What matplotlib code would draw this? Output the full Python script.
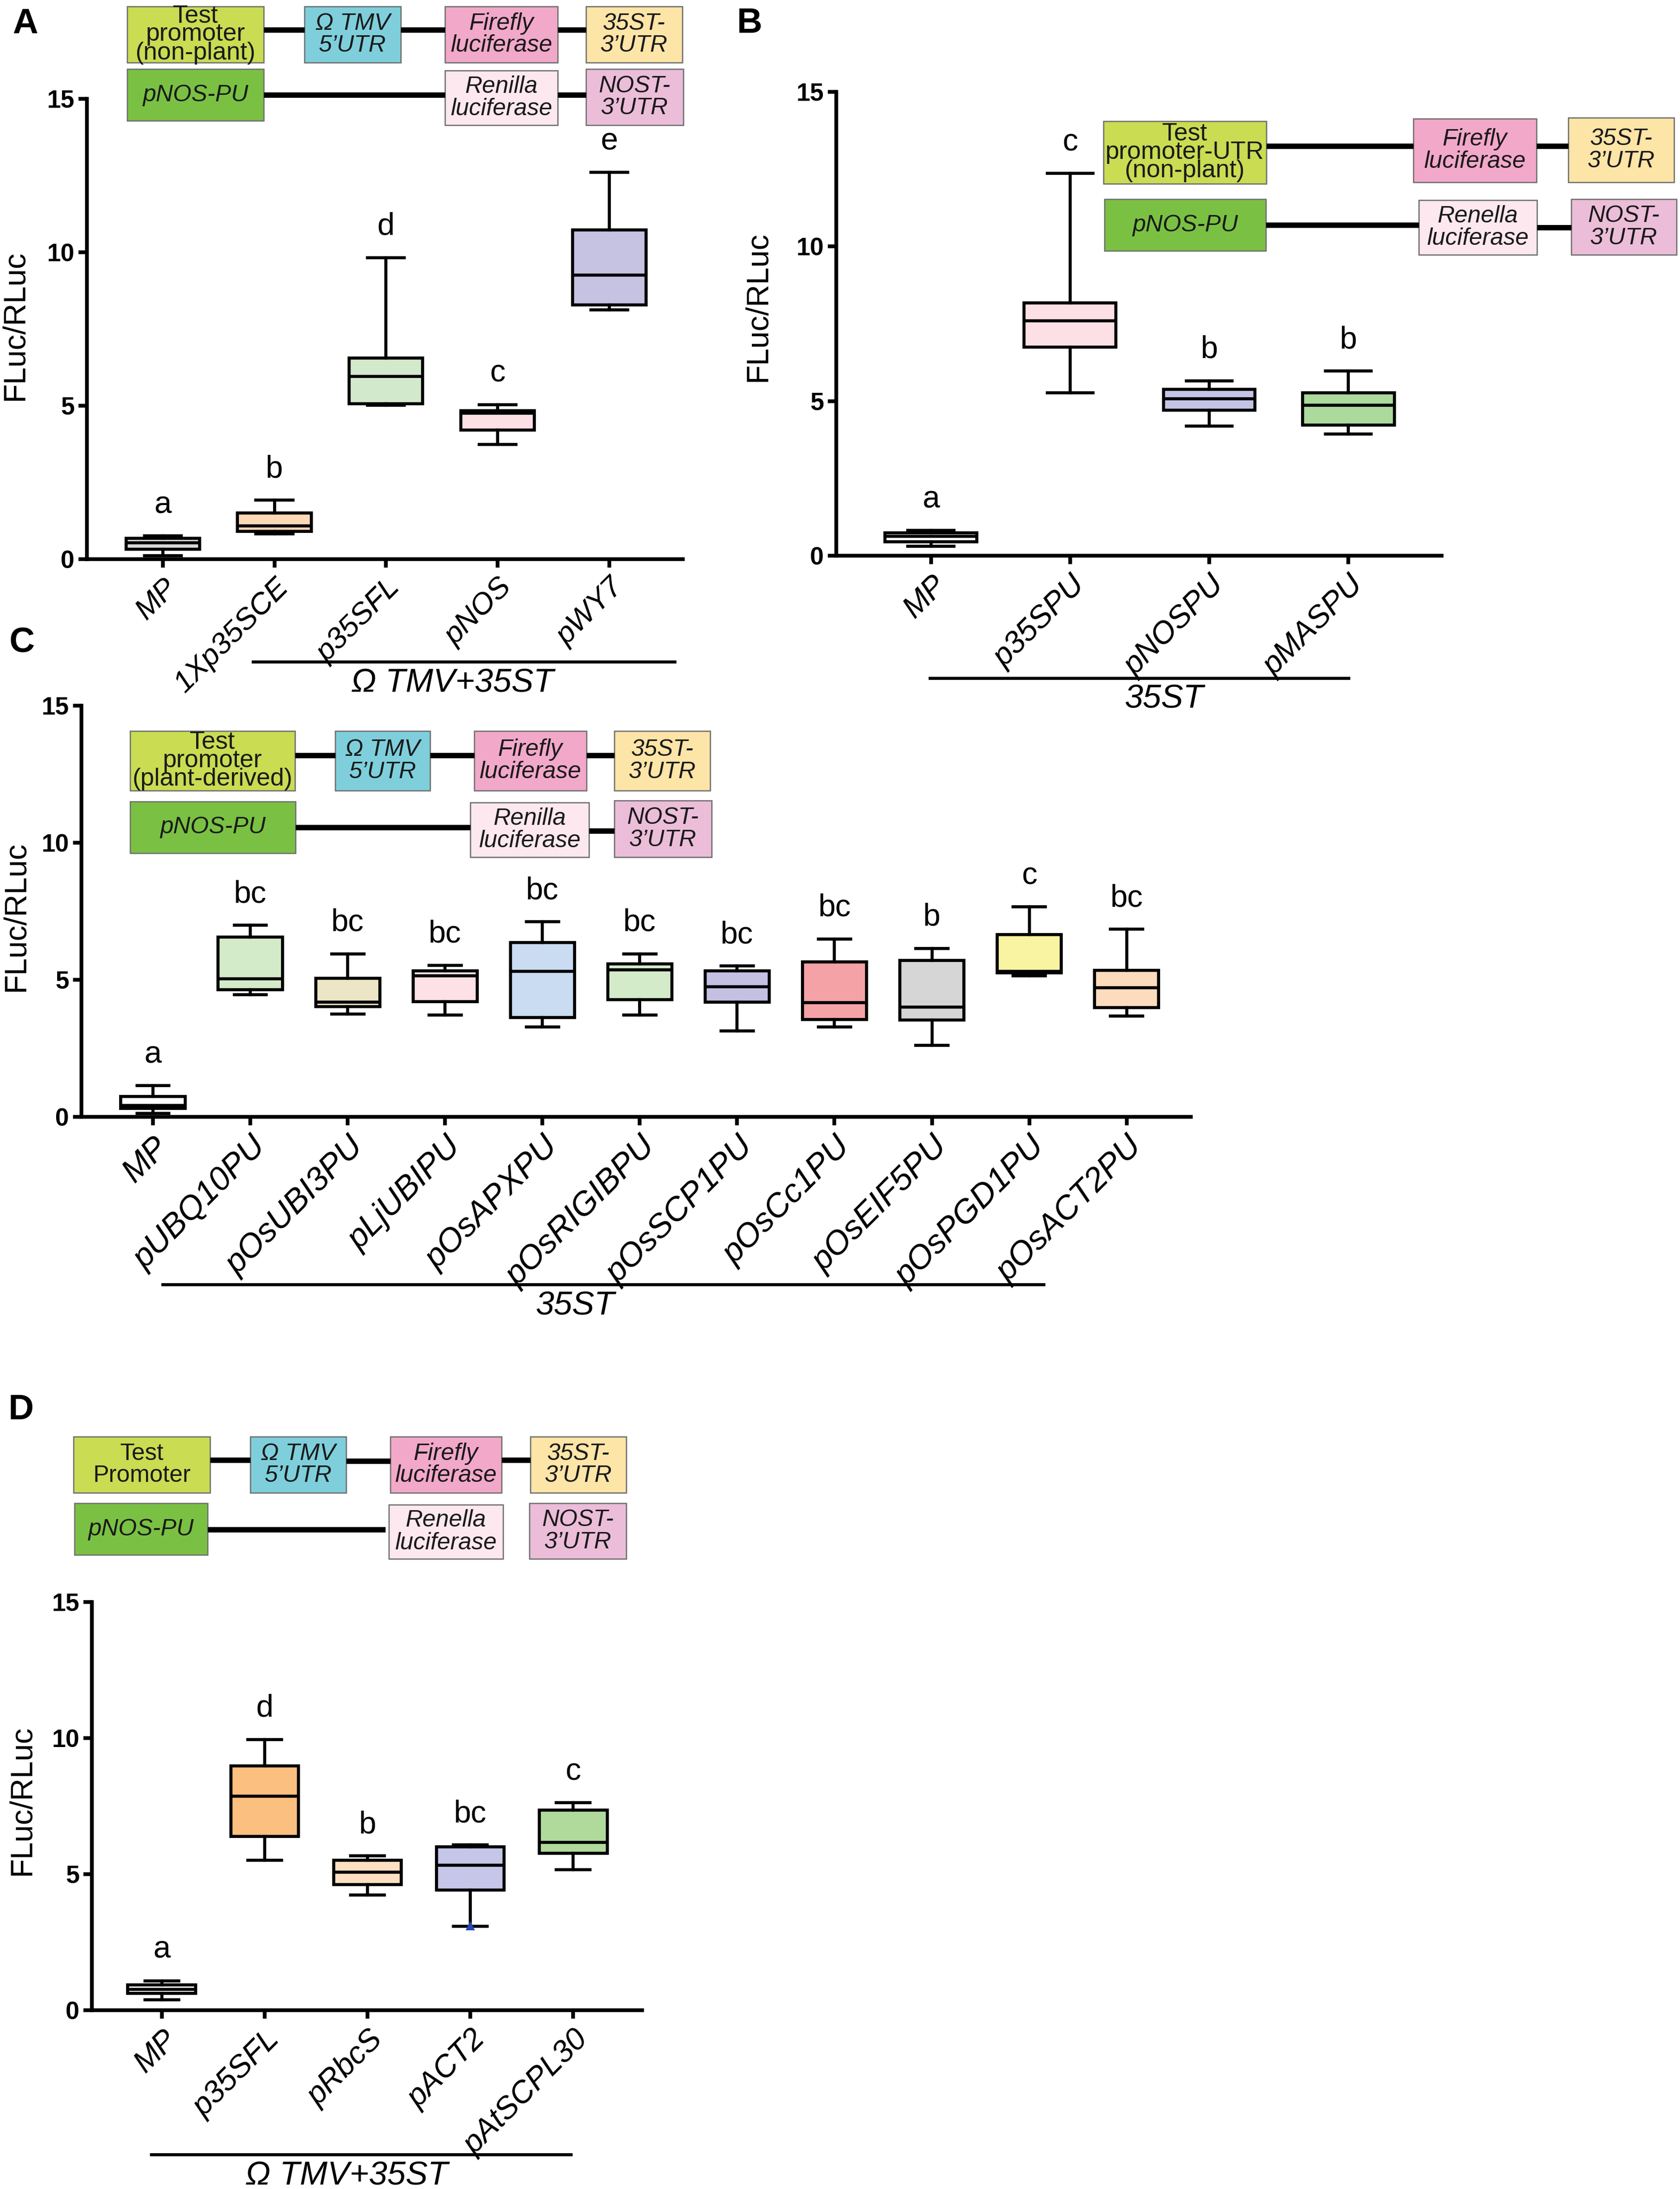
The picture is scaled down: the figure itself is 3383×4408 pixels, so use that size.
import matplotlib.pyplot as plt
from matplotlib.patches import Rectangle

W, H = 3383, 4408
DPI = 300
plt.rcParams['font.family'] = ['Liberation Sans', 'DejaVu Sans']

# ---- data ----
# panel A
a_names = ["MP", "1Xp35SCE", "p35SFL", "pNOS", "pWY7"]
a_lo = [0.12, 0.83, 5.01, 3.73, 8.13]
a_q1 = [0.33, 0.90, 5.07, 4.20, 8.28]
a_med = [0.54, 1.09, 5.95, 4.75, 9.26]
a_q3 = [0.68, 1.51, 6.56, 4.84, 10.73]
a_hi = [0.76, 1.92, 9.83, 5.04, 12.60]
a_letters = ["a", "b", "d", "c", "e"]

# panel B
b_names = ["MP", "p35SPU", "pNOSPU", "pMASPU"]
b_lo = [0.30, 5.27, 4.19, 3.94]
b_q1 = [0.45, 6.74, 4.71, 4.23]
b_med = [0.62, 7.60, 5.08, 4.86]
b_q3 = [0.74, 8.17, 5.38, 5.26]
b_hi = [0.82, 12.36, 5.66, 5.97]
b_letters = ["a", "c", "b", "b"]

# panel C
c_names = ["MP", "pUBQ10PU", "pOsUBI3PU", "pLjUBIPU", "pOsAPXPU", "pOsRIGIBPU",
           "pOsSCP1PU", "pOsCc1PU", "pOsEIF5PU", "pOsPGD1PU", "pOsACT2PU"]
c_lo = [0.13, 4.46, 3.75, 3.72, 3.27, 3.72, 3.13, 3.28, 2.60, 5.14, 3.67]
c_q1 = [0.30, 4.63, 4.02, 4.21, 3.62, 4.27, 4.19, 3.55, 3.54, 5.25, 3.99]
c_med = [0.42, 5.03, 4.19, 5.14, 5.31, 5.36, 4.74, 4.17, 4.00, 5.31, 4.71]
c_q3 = [0.75, 6.55, 5.06, 5.33, 6.35, 5.58, 5.33, 5.65, 5.70, 6.65, 5.35]
c_hi = [1.14, 6.99, 5.95, 5.53, 7.12, 5.95, 5.50, 6.49, 6.15, 7.66, 6.85]
c_letters = ["a", "bc", "bc", "bc", "bc", "bc", "bc", "bc", "b", "c", "bc"]

# panel D
d_names = ["MP", "p35SFL", "pRbcS", "pACT2", "pAtSCPL30"]
d_lo = [0.39, 5.51, 4.24, 3.08, 5.17]
d_q1 = [0.62, 6.38, 4.61, 4.41, 5.76]
d_med = [0.77, 7.87, 5.07, 5.32, 6.17]
d_q3 = [0.93, 8.98, 5.51, 6.00, 7.36]
d_hi = [1.08, 9.95, 5.67, 6.07, 7.63]
d_fliers = [[], [], [], [3.08], []]
d_letters = ["a", "d", "b", "bc", "c"]

yticks = [0, 5, 10, 15]

# box colours
a_colors = ["#d9d9d9", "#fcd8b6", "#d3e9cb", "#fde0e6", "#c5c2e2"]
b_colors = ["#ffffff", "#fde0e6", "#c4c4e6", "#acd99c"]
c_colors = ["#ffffff", "#d4ebc9", "#ede6c6", "#fde1e7", "#c9dcf1", "#d4ebc9",
            "#c3c0e2", "#f5a2a6", "#d6d6d6", "#f9f4a2", "#fcdcbd"]
d_colors = ["#ffffff", "#fbbf7f", "#fde0c1", "#c6c6e8", "#afda9c"]

C_TEST, C_TMV, C_FF, C_35 = "#c9dc52", "#7ecfdb", "#f2a8c9", "#fde4a7"
C_NOS, C_REN, C_NOST = "#7ac143", "#fde8ef", "#ebbdd9"

fig = plt.figure(figsize=(W / DPI, H / DPI), dpi=DPI)


def panel(rect, xlim, names, lo, q1, med, q3, hi, letters, colors, xfs, fliers=None):
    x0, y0, x1, y1 = rect
    ax = fig.add_axes([x0 / W, 1 - y1 / H, (x1 - x0) / W, (y1 - y0) / H])
    stats = []
    for i in range(len(names)):
        fl = fliers[i] if fliers else []
        stats.append(dict(whislo=lo[i], q1=q1[i], med=med[i], q3=q3[i], whishi=hi[i], fliers=fl))
    pos = list(range(len(names)))
    bp = ax.bxp(stats, positions=pos, widths=0.66, patch_artist=True,
                showfliers=fliers is not None,
                boxprops=dict(linewidth=1.5, edgecolor="black"),
                medianprops=dict(color="black", linewidth=1.5),
                whiskerprops=dict(color="black", linewidth=1.5),
                capprops=dict(color="black", linewidth=1.5),
                flierprops=dict(marker="^", markersize=3, markerfacecolor="#2846b4",
                                markeredgecolor="#2846b4"))
    for patch, c in zip(bp["boxes"], colors):
        patch.set_facecolor(c)
    for p, h, t in zip(pos, hi, letters):
        ax.annotate(t, (p, h), xytext=(0, 11), textcoords="offset points",
                    ha="center", va="baseline", fontsize=15)
    ax.set_xlim(*xlim)
    ax.set_ylim(0, 15)
    ax.set_yticks(yticks, labels=[str(v) for v in yticks], fontweight="bold", fontsize=12)
    ax.set_xticks(pos, labels=names, rotation=45, ha="right", va="top",
                  rotation_mode="anchor", fontstyle="italic", fontsize=xfs)
    ax.tick_params(axis="both", length=4, width=1.8, pad=3)
    ax.tick_params(axis="y", pad=2)
    for s in ["top", "right"]:
        ax.spines[s].set_visible(False)
    for s in ["left", "bottom"]:
        ax.spines[s].set_linewidth(1.8)
    ax.patch.set_alpha(0)
    return ax


panel((175, 199, 1375, 1126), (-0.68, 4.66), a_names, a_lo, a_q1, a_med, a_q3, a_hi,
      a_letters, a_colors, 14.5)
panel((1684, 185, 2903, 1119), (-0.68, 3.67), b_names, b_lo, b_q1, b_med, b_q3, b_hi,
      b_letters, b_colors, 15)
panel((164, 1421, 2398, 2249), (-0.735, 10.66), c_names, c_lo, c_q1, c_med, c_q3, c_hi,
      c_letters, c_colors, 16)
panel((185, 3226, 1293, 4048), (-0.68, 4.67), d_names, d_lo, d_q1, d_med, d_q3, d_hi,
      d_letters, d_colors, 15, fliers=d_fliers)

# overlay in pixel coordinates for schematics, labels and group bars
ov = fig.add_axes([0, 0, 1, 1])
ov.set_xlim(0, W)
ov.set_ylim(H, 0)
ov.axis("off")
ov.patch.set_alpha(0)

# construct diagrams: (x0, y0, x1, y1, text, colour, italic)
schem_a = [
    (256, 13, 531, 126, "Test\npromoter\n(non-plant)", C_TEST, False),
    (613, 13, 807, 126, "\u03a9 TMV\n5\u2019UTR", C_TMV, True),
    (896, 13, 1123, 126, "Firefly\nluciferase", C_FF, True),
    (1180, 13, 1374, 126, "35ST-\n3\u2019UTR", C_35, True),
    (256, 139, 531, 243, "pNOS-PU", C_NOS, True),
    (896, 142, 1123, 252, "Renilla\nluciferase", C_REN, True),
    (1180, 139, 1376, 252, "NOST-\n3\u2019UTR", C_NOST, True),
]
links_a = [(531, 613, 60), (807, 896, 60), (1123, 1180, 60), (531, 896, 191), (1123, 1180, 191)]

schem_b = [
    (2222, 244, 2550, 370, "Test\npromoter-UTR\n(non-plant)", C_TEST, False),
    (2846, 239, 3094, 367, "Firefly\nluciferase", C_FF, True),
    (3158, 237, 3371, 367, "35ST-\n3\u2019UTR", C_35, True),
    (2224, 401, 2549, 505, "pNOS-PU", C_NOS, True),
    (2857, 403, 3095, 513, "Renella\nluciferase", C_REN, True),
    (3164, 401, 3376, 513, "NOST-\n3\u2019UTR", C_NOST, True),
]
links_b = [(2550, 2846, 294), (3094, 3158, 294), (2549, 2857, 453), (3095, 3164, 458)]

schem_c = [
    (262, 1472, 594, 1592, "Test\npromoter\n(plant-derived)", C_TEST, False),
    (675, 1472, 866, 1592, "\u03a9 TMV\n5\u2019UTR", C_TMV, True),
    (955, 1472, 1181, 1592, "Firefly\nluciferase", C_FF, True),
    (1237, 1472, 1430, 1592, "35ST-\n3\u2019UTR", C_35, True),
    (262, 1614, 595, 1718, "pNOS-PU", C_NOS, True),
    (947, 1616, 1186, 1726, "Renilla\nluciferase", C_REN, True),
    (1237, 1612, 1433, 1726, "NOST-\n3\u2019UTR", C_NOST, True),
]
links_c = [(594, 675, 1521), (866, 955, 1521), (1181, 1237, 1521), (595, 947, 1666), (1186, 1237, 1673)]

schem_d = [
    (148, 2893, 423, 3006, "Test\nPromoter", C_TEST, False),
    (504, 2893, 697, 3006, "\u03a9 TMV\n5\u2019UTR", C_TMV, True),
    (786, 2893, 1010, 3006, "Firefly\nluciferase", C_FF, True),
    (1068, 2893, 1261, 3006, "35ST-\n3\u2019UTR", C_35, True),
    (150, 3027, 418, 3131, "pNOS-PU", C_NOS, True),
    (783, 3030, 1013, 3139, "Renella\nluciferase", C_REN, True),
    (1066, 3027, 1261, 3139, "NOST-\n3\u2019UTR", C_NOST, True),
]
links_d = [(423, 504, 2940), (697, 786, 2942), (1010, 1068, 2940), (418, 776, 3080)]


def schematic(items, links):
    for xa, xb, y in links:
        ov.plot([xa, xb], [y, y], color="black", linewidth=2.6, solid_capstyle="butt")
    for x0, y0, x1, y1, txt, col, it in items:
        ov.add_patch(Rectangle((x0, y0), x1 - x0, y1 - y0, facecolor=col,
                               edgecolor="#6e6e6e", linewidth=0.6))
        three = txt.count("\n") == 2
        ov.text((x0 + x1) / 2, (y0 + y1) / 2, txt, ha="center", va="center",
                fontsize=12 if three else 11.5, fontstyle="italic" if it else "normal",
                linespacing=0.75 if three else 1.0, color="#1a1a1a")


schematic(schem_a, links_a)
schematic(schem_b, links_b)
schematic(schem_c, links_c)
schematic(schem_d, links_d)

# panel letters
for s, x, y in [("A", 51, 49), ("B", 1509, 48), ("C", 44, 1295), ("D", 42, 2840)]:
    ov.text(x, y, s, ha="center", va="center", fontsize=17, fontweight="bold")

# y axis titles
for x, y in [(30, 655), (1526, 617), (32, 1845), (44, 3625)]:
    ov.text(x, y, "FLuc/RLuc", rotation=90, ha="center", va="center", fontsize=15)

# group bars under the category labels
for xa, xb, y, txt, xt in [(510, 1359, 1333, "\u03a9 TMV+35ST", 911),
                           (1873, 2716, 1366, "35ST", 2344),
                           (328, 2102, 2587, "35ST", 1158),
                           (305, 1150, 4339, "\u03a9 TMV+35ST", 698)]:
    ov.plot([xa, xb], [y, y], color="black", linewidth=1.5)
    ov.text(xt, y + 12, txt, ha="center", va="top", fontsize=16, fontstyle="italic")

fig.savefig("out.png", dpi=DPI)
